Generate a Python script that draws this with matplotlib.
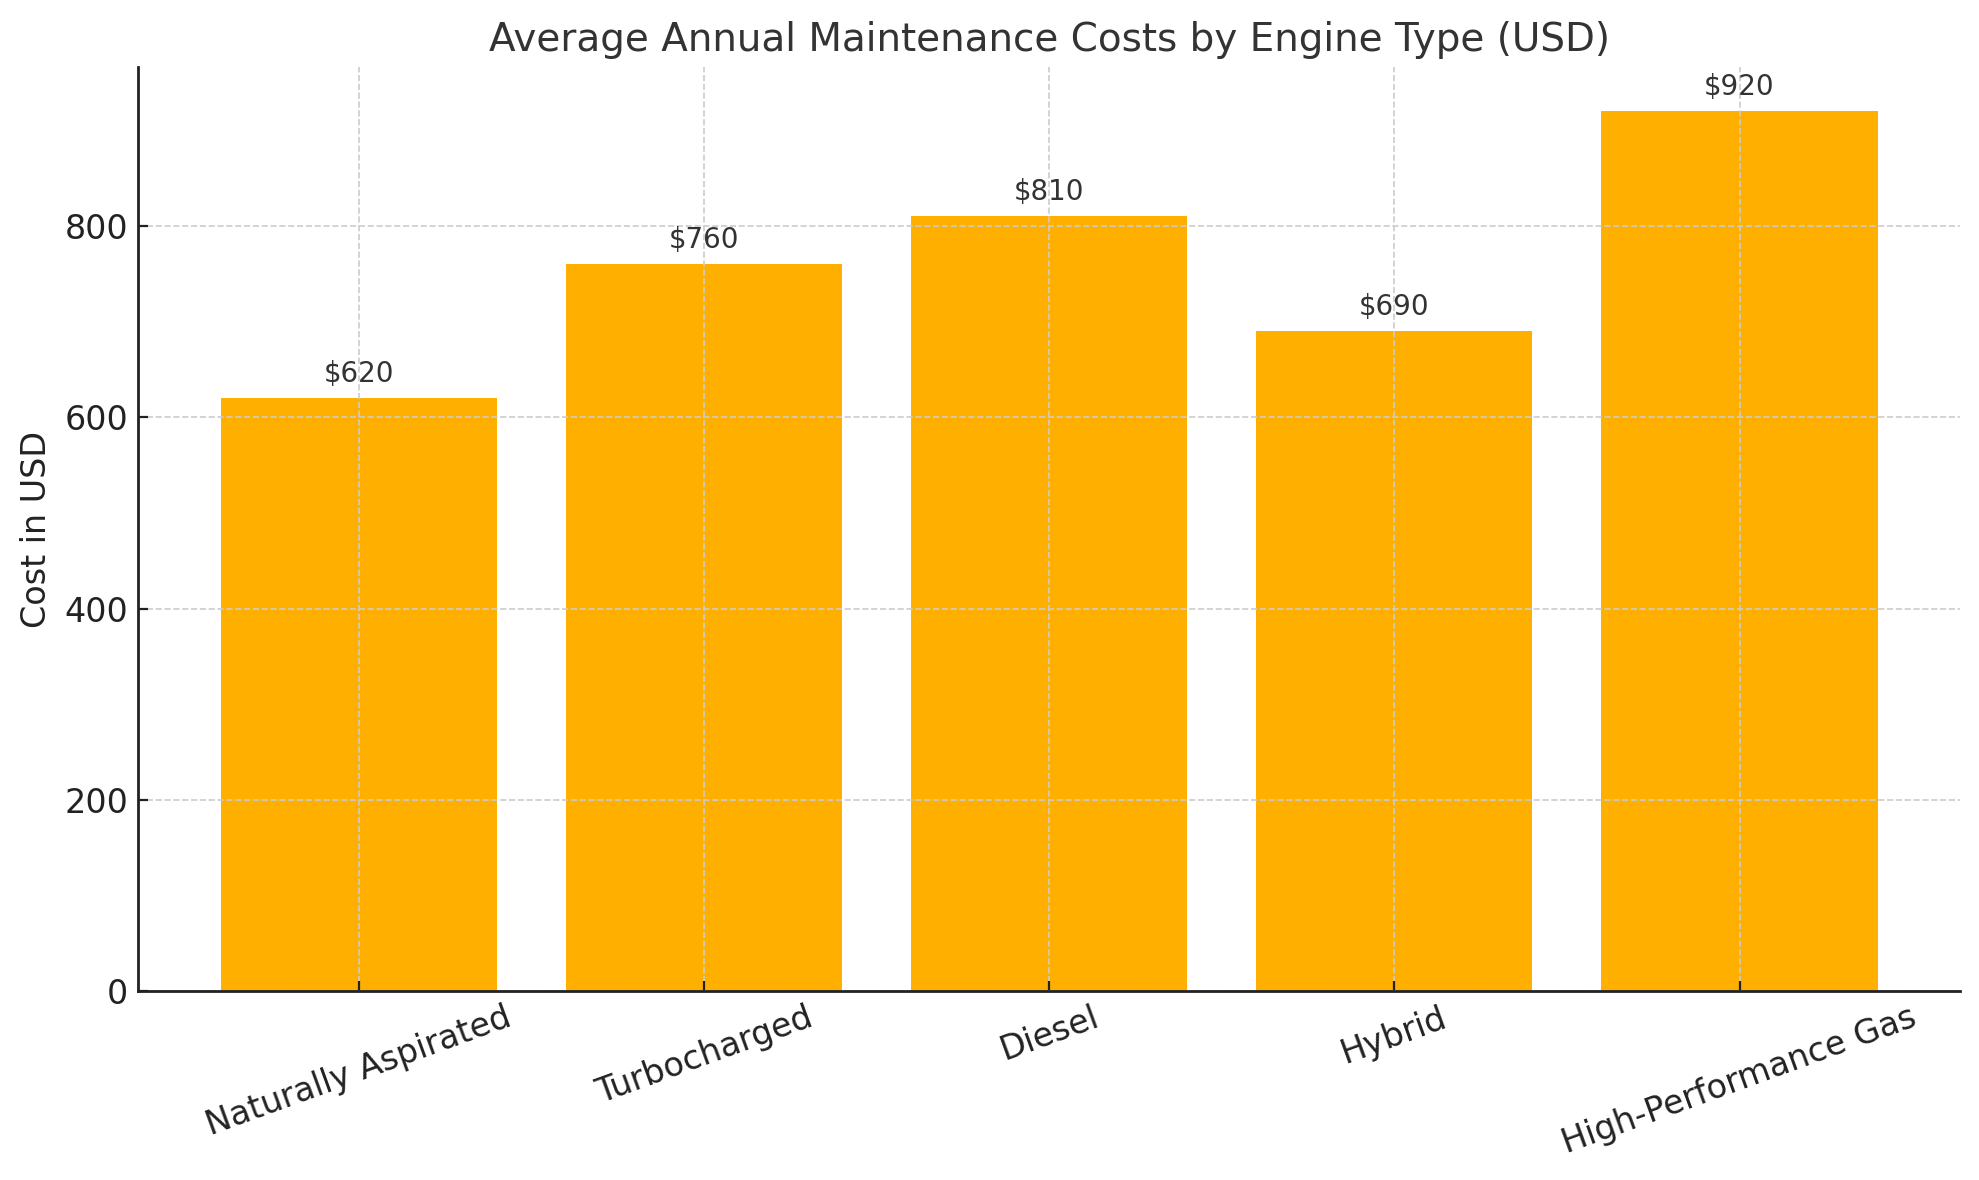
import matplotlib
matplotlib.use("Agg")
import matplotlib.pyplot as plt

# engine types and their average yearly maintenance cost
engines = ["Naturally Aspirated", "Turbocharged", "Diesel", "Hybrid", "High-Performance Gas"]
costs = [620, 760, 810, 690, 920]

fig = plt.figure(figsize=(9.895, 5.9), dpi=200)
ax = fig.add_axes([0.0698, 0.160, 0.9208, 0.783])

bars = ax.bar(engines, costs, color="#FFAF00", width=0.8, zorder=2)

# value labels above bars
for b, c in zip(bars, costs):
    ax.text(b.get_x() + b.get_width() / 2, c + 11, f"${c}",
            ha="center", va="bottom", fontsize=10, color="#333333", zorder=3)

ax.set_title("Average Annual Maintenance Costs by Engine Type (USD)",
             fontsize=14, color="#333333", pad=6)
ax.set_ylabel("Cost in USD", fontsize=12, color="#222222")
ax.set_yticks([0, 200, 400, 600, 800])
ax.tick_params(axis="both", labelsize=12, colors="#222222", direction="in")
plt.setp(ax.get_xticklabels(), rotation=20)

ax.grid(True, linestyle="--", color="#cccccc", linewidth=0.6, zorder=0)
ax.set_axisbelow(False)
for s in ["top", "right"]:
    ax.spines[s].set_visible(False)
for s in ["left", "bottom"]:
    ax.spines[s].set_color("#222222")
    ax.spines[s].set_linewidth(1.0)
    ax.spines[s].set_zorder(5)

fig.savefig("out.png", dpi=200)
